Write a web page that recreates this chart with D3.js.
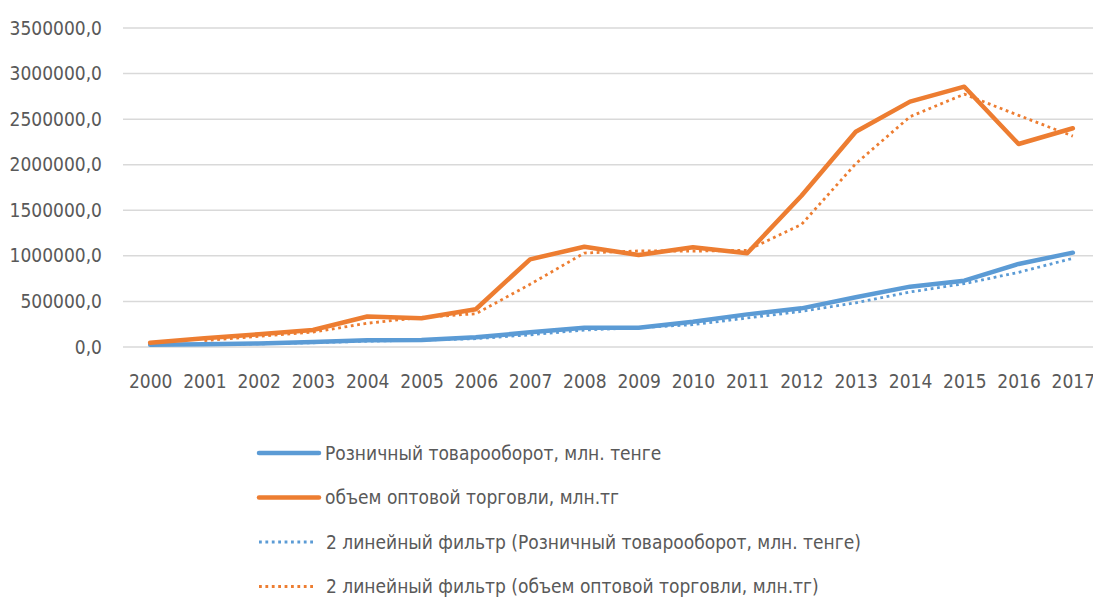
<!DOCTYPE html>
<html>
<head>
<meta charset="utf-8">
<script src="https://cdn.jsdelivr.net/npm/d3@7"></script>
<style>
  body { margin: 0; background: #fff; }
  svg text { font-family: "Liberation Sans Narrow", "DejaVu Sans Condensed", "Open Sans", sans-serif; fill: #595959; }
</style>
</head>
<body>
<svg id="chart" width="1093" height="597"></svg>
<script>
"use strict";

const years = ["2000","2001","2002","2003","2004","2005","2006","2007","2008",
  "2009","2010","2011","2012","2013","2014","2015","2016","2017"];

// розничный товарооборот, млн. тенге
const retail = [25000, 30000, 38000, 55000, 73000, 77000, 106000, 161000, 212000,
  212000, 278000, 358000, 424000, 545000, 662000, 728000, 911000, 1035000];

// объем оптовой торговли, млн.тг
const wholesale = [47000, 95000, 140000, 186000, 335000, 315000, 414000, 962000, 1100000,
  1009000, 1094000, 1028000, 1660000, 2362000, 2692000, 2856000, 2227000, 2400000];

// 2-period moving average trendlines (start from 2001)
const retailTrend = [null, 27500, 34000, 46500, 64000, 75000, 91500, 133500, 186500,
  212000, 245000, 318000, 391000, 484500, 603500, 695000, 819500, 973000];
const wholesaleTrend = [null, 71000, 117500, 163000, 260500, 325000, 364500, 688000, 1031000,
  1054500, 1051500, 1061000, 1344000, 2011000, 2527000, 2774000, 2541500, 2313500];

const yTicks = [0, 500000, 1000000, 1500000, 2000000, 2500000, 3000000, 3500000];

const legendLabels = [
  "Розничный товарооборот, млн. тенге",
  "объем оптовой торговли, млн.тг",
  "2 линейный фильтр (Розничный товарооборот, млн. тенге)",
  "2 линейный фильтр (объем оптовой торговли, млн.тг)"
];

const colors = { blue: "#5B9BD5", orange: "#ED7D31", grid: "#d9d9d9" };

const svg = d3.select("#chart");

const x = d3.scalePoint().domain(years).range([123, 1100]).padding(0.5);
const y = d3.scaleLinear().domain([0, 3500000]).range([347, 28]);

const fmt = d3.formatLocale({ decimal: ",", thousands: "", grouping: [3], currency: ["", ""] }).format(".1f");

// grid
svg.append("g")
  .selectAll("line")
  .data(yTicks)
  .join("line")
  .attr("x1", 123)
  .attr("x2", 1100)
  .attr("y1", d => y(d))
  .attr("y2", d => y(d))
  .attr("stroke", colors.grid)
  .attr("stroke-width", 1.5);

// y axis labels
const yAxis = svg.append("g")
  .attr("transform", "translate(102,0)")
  .call(d3.axisLeft(y).tickValues(yTicks).tickFormat(fmt).tickSize(0).tickPadding(0));
yAxis.select(".domain").remove();
yAxis.selectAll("text").style("font-size", "19px").attr("fill", "#595959");

// x axis labels
const xAxis = svg.append("g")
  .attr("transform", "translate(0,374)")
  .call(d3.axisBottom(x).tickSize(0).tickPadding(0));
xAxis.select(".domain").remove();
xAxis.selectAll("text").style("font-size", "19px").attr("fill", "#595959");

const series = [
  { values: wholesaleTrend, color: colors.orange, dotted: true },
  { values: retailTrend, color: colors.blue, dotted: true },
  { values: retail, color: colors.blue, dotted: false },
  { values: wholesale, color: colors.orange, dotted: false }
];

const line = d3.line()
  .defined(d => d.v != null)
  .x(d => x(d.year))
  .y(d => y(d.v));

svg.append("g")
  .selectAll("path")
  .data(series)
  .join("path")
  .attr("d", s => line(s.values.map((v, i) => ({ year: years[i], v }))))
  .attr("fill", "none")
  .attr("stroke", s => s.color)
  .attr("stroke-width", s => s.dotted ? 2.8 : 4.5)
  .attr("stroke-dasharray", s => s.dotted ? "2.8,3.6" : null)
  .attr("stroke-linejoin", "round")
  .attr("stroke-linecap", s => s.dotted ? "butt" : "round");

// legend
const legendItems = [
  { label: legendLabels[0], color: colors.blue, dotted: false },
  { label: legendLabels[1], color: colors.orange, dotted: false },
  { label: legendLabels[2], color: colors.blue, dotted: true },
  { label: legendLabels[3], color: colors.orange, dotted: true }
];

const legend = svg.append("g")
  .selectAll("g")
  .data(legendItems)
  .join("g")
  .attr("transform", (d, i) => `translate(0,${453 + i * 44.5})`);

legend.append("line")
  .attr("x1", 259)
  .attr("x2", d => d.dotted ? 313 : 319)
  .attr("stroke", d => d.color)
  .attr("stroke-width", d => d.dotted ? 2.8 : 4.5)
  .attr("stroke-linecap", d => d.dotted ? "butt" : "round")
  .attr("stroke-dasharray", d => d.dotted ? "2.8,3.6" : null);

legend.append("text")
  .attr("x", d => d.dotted ? 326 : 325)
  .attr("dy", "0.35em")
  .style("font-size", "19px")
  .text(d => d.label);
</script>
</body>
</html>
